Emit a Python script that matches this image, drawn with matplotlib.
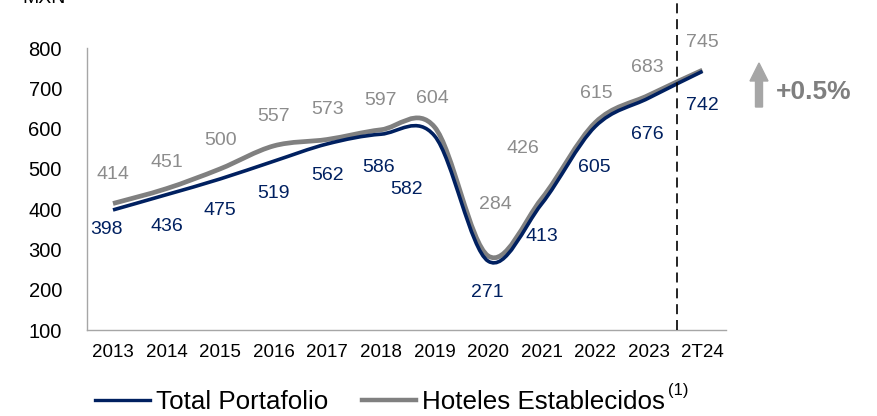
import matplotlib
matplotlib.use('Agg')
import matplotlib.pyplot as plt
from matplotlib.path import Path
import matplotlib.patches as mpatches
from matplotlib.lines import Line2D
import numpy as np

plt.rcParams['font.family'] = ['Liberation Sans', 'DejaVu Sans']

years = ['2013', '2014', '2015', '2016', '2017', '2018', '2019', '2020', '2021', '2022', '2023', '2T24']
total = [398, 436, 475, 519, 562, 586, 582, 271, 413, 605, 676, 742]
hoteles = [414, 451, 500, 557, 573, 597, 604, 284, 426, 615, 683, 745]

NAVY = '#002060'
GRAY = '#808080'
GRAY_TXT = '#8c8c8c'

# label offsets in pixels (x, y) from each point
off_hot = [(0, 29), (0, 26), (0, 28), (0, 29), (0, 30), (0, 29), (-2, 28),
           (7, 51), (-19, 50), (1, 29), (-2, 28), (0, 28)]
off_tot = [(-7, -20), (0, -32), (0, -32), (0, -32), (0, -32), (-2, -33), (-28, -54),
           (-1, -31), (0, -33), (-1, -41), (-2, -37), (0, -34)]


def smooth_path(xs, ys):
    # cardinal spline as cubic bezier segments (same idea as a "smoothed line")
    pts = list(zip(xs, ys))
    verts = [pts[0]]
    codes = [Path.MOVETO]
    n = len(pts)
    for i in range(n - 1):
        p0 = pts[max(i - 1, 0)]
        p1 = pts[i]
        p2 = pts[i + 1]
        p3 = pts[min(i + 2, n - 1)]
        c1 = (p1[0] + (p2[0] - p0[0]) / 6, p1[1] + (p2[1] - p0[1]) / 6)
        c2 = (p2[0] - (p3[0] - p1[0]) / 6, p2[1] - (p3[1] - p1[1]) / 6)
        verts += [c1, c2, p2]
        codes += [Path.CURVE4] * 3
    return Path(verts, codes)


fig = plt.figure(figsize=(8.78, 4.16), dpi=100)
ax = fig.add_axes([87 / 878, 86 / 416, (726 - 87) / 878, (330 - 48) / 416])

x = np.arange(len(years))
ax.add_patch(mpatches.PathPatch(smooth_path(x, total), fill=False, edgecolor=NAVY,
                                lw=2.6, capstyle='butt', zorder=3))
ax.add_patch(mpatches.PathPatch(smooth_path(x, hoteles), fill=False, edgecolor=GRAY,
                                lw=3.4, capstyle='butt', zorder=2))

for i in range(len(years)):
    ax.annotate(str(hoteles[i]), (x[i], hoteles[i]), xytext=off_hot[i],
                textcoords='offset pixels', ha='center', va='center',
                fontsize=14, color=GRAY_TXT)
    ax.annotate(str(total[i]), (x[i], total[i]), xytext=off_tot[i],
                textcoords='offset pixels', ha='center', va='center',
                fontsize=14, color=NAVY)

ax.set_xlim(-0.485, 11.44)
ax.set_ylim(100, 800)
ax.set_yticks(range(100, 900, 100))
ax.set_xticks(x)
ax.set_xticklabels(years)
ax.tick_params(axis='x', length=0, pad=10, labelsize=13.5)
ax.tick_params(axis='y', length=0, pad=18, labelsize=14.5)
for s in ['top', 'right']:
    ax.spines[s].set_visible(False)
for s in ['left', 'bottom']:
    ax.spines[s].set_color('#a6a6a6')
    ax.spines[s].set_linewidth(1)

# dashed separator before the partial year
ax.plot([10.52, 10.52], [100, 920], color='black', lw=1.2,
        linestyle=(0, (6, 3.5)), clip_on=False, zorder=4)

# growth arrow and text
arrow = mpatches.FancyArrow(7.59, (416 - 107) / 100, 0, 0.44, width=0.07,
                            head_width=0.18, head_length=0.18,
                            length_includes_head=True, color='#a6a6a6',
                            transform=fig.dpi_scale_trans)
fig.add_artist(arrow)
fig.text(776 / 878, (416 - 92) / 416, '+0.5%', fontsize=19, fontweight='bold',
         color='#7f7f7f', ha='left', va='center')

fig.text(22 / 878, (416 - 3) / 416, 'MXN', fontsize=14, ha='left', va='baseline')

handles = [Line2D([], [], color=NAVY, lw=2.4), Line2D([], [], color=GRAY, lw=3.2)]
leg = fig.legend(handles, ['Total Portafolio', 'Hoteles Establecidos'],
                 loc='center left', bbox_to_anchor=(95 / 878, 1 - 402 / 416),
                 ncol=2, frameon=False, fontsize=18.7, handlelength=2.1,
                 handletextpad=0.23, columnspacing=1.3, borderaxespad=0,
                 borderpad=0)

fig.canvas.draw()
bb = leg.get_texts()[1].get_window_extent()
fig.text((bb.x1 + 3) / 878, (416 - 391) / 416, '(1)', fontsize=12,
         ha='left', va='center')

fig.savefig('out.png', dpi=100)
